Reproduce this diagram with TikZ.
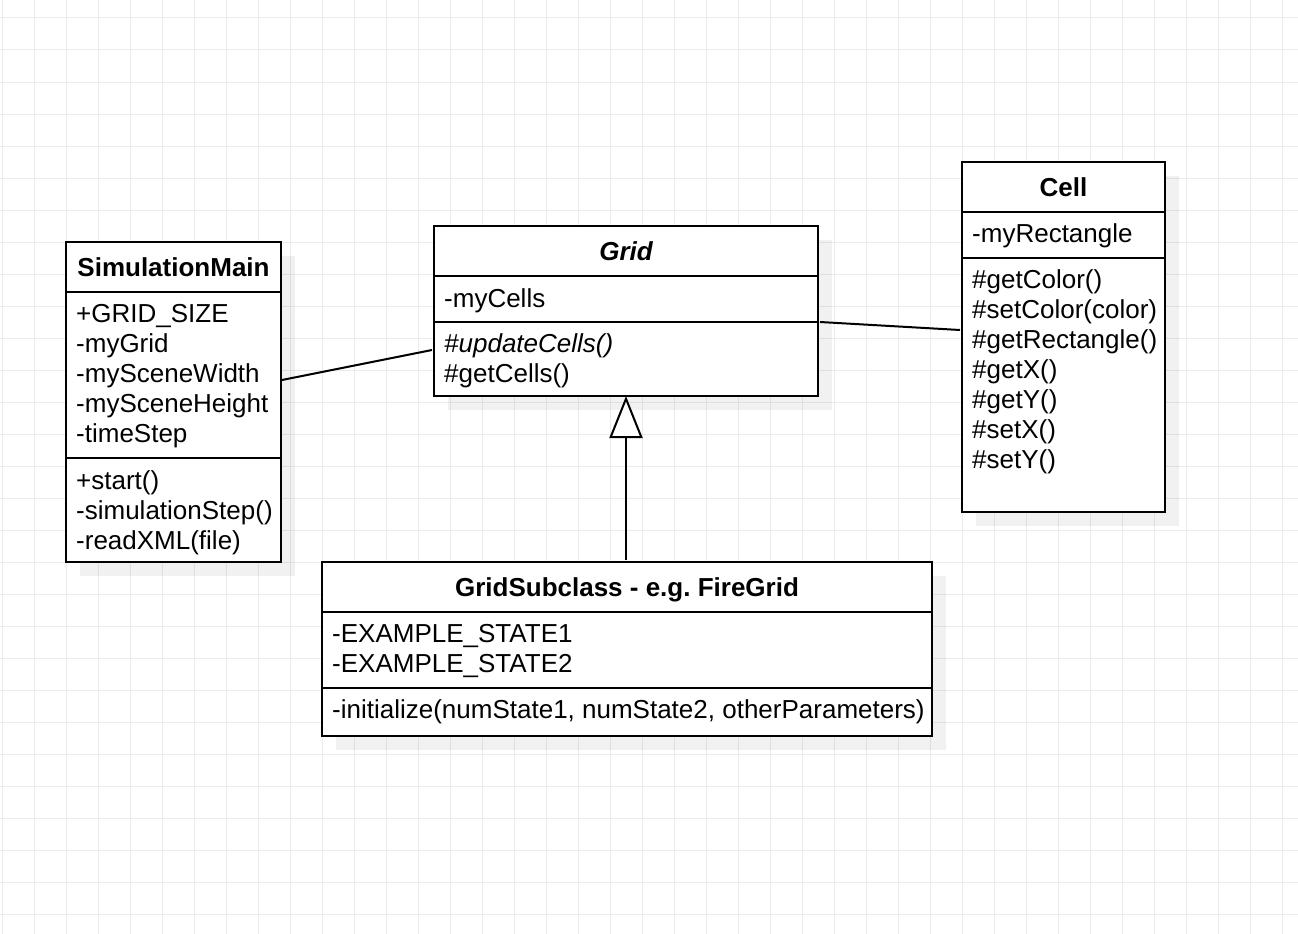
\documentclass[tikz,border=0pt]{standalone}
\usepackage{fontspec}
\setmainfont{Liberation Sans}
\usetikzlibrary{arrows.meta,shadows}
\definecolor{gridline}{HTML}{EBEBEB}
\newcommand\umlfont{\fontsize{26}{30}\selectfont}
\frenchspacing
\tikzset{
  classbox/.style={draw=black, line width=2pt, fill=white, inner sep=0pt,
    outer sep=0pt, anchor=north west,
    general shadow={fill=black, fill opacity=0.055, shadow xshift=14pt, shadow yshift=-14pt}},
  divider/.style={line width=2pt},
  member/.style={anchor=base west, inner sep=0pt, font=\umlfont},
  classtitle/.style={anchor=base, inner sep=0pt, font=\umlfont\bfseries},
  assoc/.style={line width=2pt},
  inherit/.style={line width=2pt, -{Triangle[open, length=42pt, width=33pt, fill=white]}},
}
\begin{document}
\begin{tikzpicture}[x=1pt, y=-1pt]
  \useasboundingbox (0,0) rectangle (1298,934);
  \fill[white] (0,0) rectangle (1298,934);
  % background grid
  \foreach \x in {2,34,...,1298} \draw[gridline, line width=1pt] (\x,0) -- (\x,934);
  \foreach \y in {18,50,...,934} \draw[gridline, line width=1pt] (0,\y) -- (1298,\y);

  % class boxes
  \node[classbox, minimum width=215pt, minimum height=320pt] (sim) at (66,242) {};
  \node[classbox, minimum width=384pt, minimum height=170pt] (grid) at (434,226) {};
  \node[classbox, minimum width=203pt, minimum height=350pt] (cell) at (962,162) {};
  \node[classbox, minimum width=610pt, minimum height=174pt] (sub) at (322,562) {};

  % SimulationMain
  \draw[divider] (66,292) -- (281,292);
  \draw[divider] (66,458) -- (281,458);
  \node[classtitle] (simT) at (173.5,276) {SimulationMain};
  \foreach \t [count=\i from 0] in {+GRID\_SIZE,-myGrid,-mySceneWidth,-mySceneHeight,-timeStep}
    \node[member] (simA\i) at (76,322+30*\i) {\t};
  \foreach \t [count=\i from 0] in {+start(),-simulationStep(),-readXML(file)}
    \node[member] (simM\i) at (76,489+30*\i) {\t};

  % Grid
  \draw[divider] (434,276) -- (818,276);
  \draw[divider] (434,322) -- (818,322);
  \node[classtitle] (gridT) at (626,260) {\itshape Grid};
  \node[member] (gridA0) at (444,307) {-myCells};
  \node[member] (gridM0) at (444,352) {\itshape\#updateCells()};
  \node[member] (gridM1) at (444,382) {\#getCells()};

  % Cell
  \draw[divider] (962,212) -- (1165,212);
  \draw[divider] (962,258) -- (1165,258);
  \node[classtitle] (cellT) at (1063.5,196) {Cell};
  \node[member] (cellA0) at (972,242) {-myRectangle};
  \foreach \t [count=\i from 0] in {\#getColor(),\#setColor(color),\#getRectangle(),\#getX(),\#getY(),\#setX(),\#setY()}
    \node[member] (cellM\i) at (972,288+30*\i) {\t};

  % GridSubclass
  \draw[divider] (322,612) -- (932,612);
  \draw[divider] (322,688) -- (932,688);
  \node[classtitle] (subT) at (627,596) {GridSubclass - e.g.\ FireGrid};
  \node[member] (subA0) at (332,642) {-EXAMPLE\_STATE1};
  \node[member] (subA1) at (332,672) {-EXAMPLE\_STATE2};
  \node[member] (subM0) at (332,718) {-initialize(numState1, numState2, otherParameters)};

  % relations
  \draw[assoc] ([xshift=1pt]sim.east |- 0,380) -- ([xshift=-2pt]grid.west |- 0,350);
  \draw[assoc] ([xshift=2pt]grid.east |- 0,322) -- ([xshift=-2pt]cell.west |- 0,330);
  \draw[inherit] ([yshift=2pt]sub.north -| 626,0) -- (grid.south -| 626,0);
\end{tikzpicture}
\end{document}
